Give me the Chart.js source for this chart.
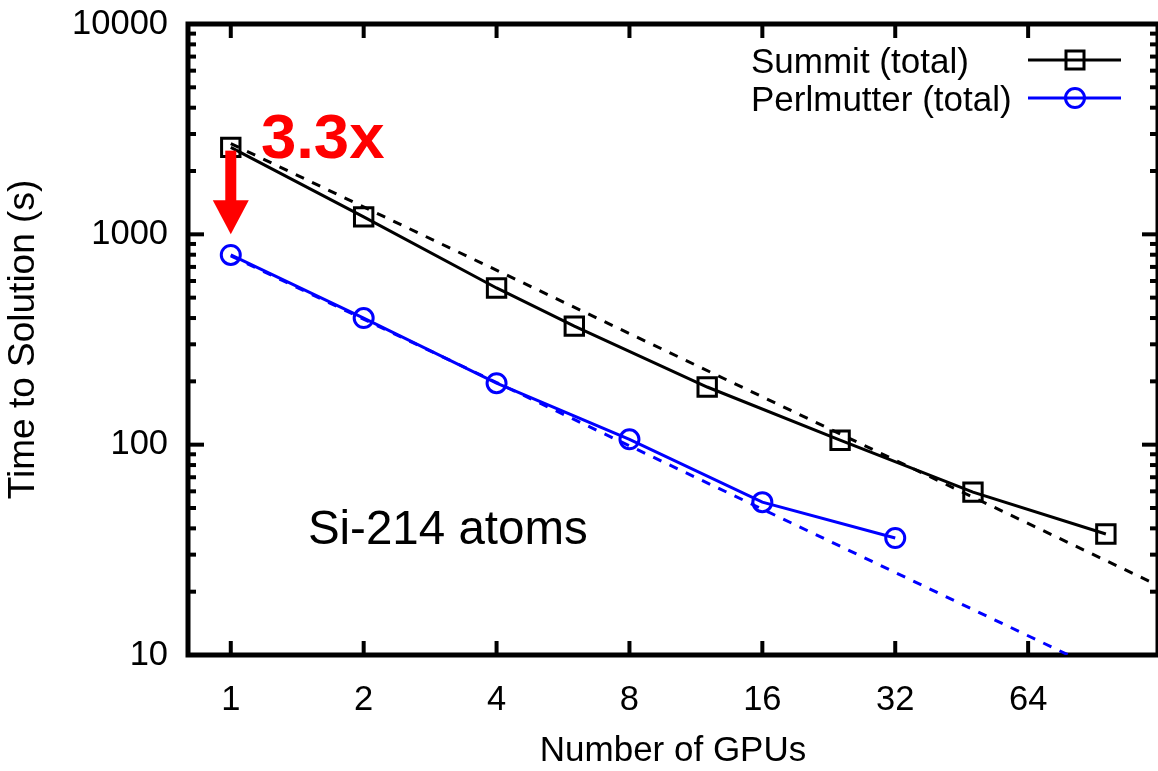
<!DOCTYPE html>
<html>
<head>
<meta charset="utf-8">
<script src="https://cdn.jsdelivr.net/npm/chart.js@4.4.0/dist/chart.umd.min.js"></script>
<style>
  html, body { margin: 0; padding: 0; background: #fff; overflow: hidden; }
  #wrap { width: 1158px; height: 771px; position: relative; }
  canvas { display: block; }
</style>
</head>
<body>
<div id="wrap"><canvas id="chart"></canvas></div>
<script>
// measured data
var gpusSummit = [1, 2, 4, 6, 12, 24, 48, 96];
var timeSummit = [2590, 1210, 556, 366, 188, 105, 59.5, 37.6];
var gpusPerlmutter = [1, 2, 4, 8, 16, 32];
var timePerlmutter = [798, 400, 196, 106, 53.3, 36.0];

// ideal scaling lines (end points)
var idealGpus = [1, 128];
var idealSummit = [2700, 21.1];
var idealPerlmutter = [790, 6.17];

var xTicks = [1, 2, 4, 8, 16, 32, 64];
var yTicks = [10, 100, 1000, 10000];

var FONT = '"Liberation Sans", Arial, sans-serif';

function pts(xs, ys) {
  return xs.map(function (x, i) { return { x: x, y: ys[i] }; });
}

function line(ctx, x1, y1, x2, y2) {
  ctx.beginPath();
  ctx.moveTo(x1, y1);
  ctx.lineTo(x2, y2);
  ctx.stroke();
}

// gnuplot style border with inward ticks on all four sides
var framePlugin = {
  id: 'frame',
  beforeDatasetsDraw: function (chart) {
    var ctx = chart.ctx, a = chart.chartArea;
    var sx = chart.scales.x, sy = chart.scales.y;
    ctx.save();
    ctx.strokeStyle = '#000';
    ctx.lineWidth = 4;
    xTicks.forEach(function (v) {
      var px = sx.getPixelForValue(v);
      line(ctx, px, a.bottom, px, a.bottom - 14);
      line(ctx, px, a.top, px, a.top + 14);
    });
    for (var i = 0; i < yTicks.length; i++) {
      var py = sy.getPixelForValue(yTicks[i]);
      line(ctx, a.left, py, a.left + 16, py);
      line(ctx, a.right, py, a.right - 16, py);
      if (i == yTicks.length - 1) break;
      for (var m = 2; m <= 9; m++) {
        var pm = sy.getPixelForValue(yTicks[i] * m);
        line(ctx, a.left, pm, a.left + 8, pm);
        line(ctx, a.right, pm, a.right - 8, pm);
      }
    }
    ctx.lineWidth = 5;
    ctx.strokeRect(a.left, a.top, a.right - a.left, a.bottom - a.top);
    ctx.restore();
  }
};

function drawMarker(ctx, style, x, y, color) {
  ctx.save();
  ctx.strokeStyle = color;
  ctx.lineWidth = 3;
  ctx.beginPath();
  if (style == 'rect') {
    ctx.rect(x - 9, y - 9, 18, 18);
  } else {
    ctx.arc(x, y, 9.5, 0, Math.PI * 2);
  }
  ctx.stroke();
  ctx.restore();
}

var notesPlugin = {
  id: 'notes',
  afterDatasetsDraw: function (chart) {
    var ctx = chart.ctx;
    var sx = chart.scales.x, sy = chart.scales.y;
    ctx.save();

    // red arrow from Summit to Perlmutter at 1 GPU
    var ax = sx.getPixelForValue(1);
    var yFrom = sy.getPixelForValue(2500);
    var yTip = sy.getPixelForValue(1000);
    ctx.fillStyle = '#ff0000';
    ctx.fillRect(ax - 5.5, yFrom, 11, yTip - 33 - yFrom);
    ctx.beginPath();
    ctx.moveTo(ax - 18, yTip - 34);
    ctx.lineTo(ax + 18, yTip - 34);
    ctx.lineTo(ax, yTip);
    ctx.closePath();
    ctx.fill();

    ctx.textAlign = 'left';
    ctx.textBaseline = 'alphabetic';
    ctx.font = 'bold 63.5px ' + FONT;
    ctx.fillText('3.3x', sx.getPixelForValue(1.17), sy.getPixelForValue(2300));

    ctx.fillStyle = '#000';
    ctx.font = '47.5px ' + FONT;
    ctx.fillText('Si-214 atoms', sx.getPixelForValue(1.495), sy.getPixelForValue(33.7));

    // legend
    var rows = [
      { label: 'Summit (total)', color: '#000000', style: 'rect', y: 60 },
      { label: 'Perlmutter (total)', color: '#0000ff', style: 'circle', y: 98 }
    ];
    ctx.font = '35px ' + FONT;
    rows.forEach(function (r) {
      ctx.fillStyle = '#000';
      ctx.fillText(r.label, 751, r.y + 12.5);
      ctx.strokeStyle = r.color;
      ctx.lineWidth = 3;
      line(ctx, 1028, r.y, 1121, r.y);
      drawMarker(ctx, r.style, 1075, r.y, r.color);
    });
    ctx.restore();
  }
};

var ctx = document.getElementById('chart');
new Chart(ctx, {
  type: 'line',
  data: {
    datasets: [
      {
        label: 'Summit (total)',
        data: pts(gpusSummit, timeSummit),
        borderColor: '#000000',
        borderWidth: 3,
        pointStyle: 'rect',
        pointRadius: 13,
        pointBorderWidth: 3,
        pointBorderColor: '#000000',
        pointBackgroundColor: 'rgba(0,0,0,0)'
      },
      {
        label: 'Perlmutter (total)',
        data: pts(gpusPerlmutter, timePerlmutter),
        borderColor: '#0000ff',
        borderWidth: 3,
        pointStyle: 'circle',
        pointRadius: 9.5,
        pointBorderWidth: 3,
        pointBorderColor: '#0000ff',
        pointBackgroundColor: 'rgba(0,0,0,0)'
      },
      {
        label: 'Summit ideal',
        data: pts(idealGpus, idealSummit),
        borderColor: '#000000',
        borderWidth: 3,
        borderDash: [9, 9],
        pointRadius: 0
      },
      {
        label: 'Perlmutter ideal',
        data: pts(idealGpus, idealPerlmutter),
        borderColor: '#0000ff',
        borderWidth: 3,
        borderDash: [9, 9],
        pointRadius: 0
      }
    ]
  },
  options: {
    responsive: true,
    maintainAspectRatio: false,
    animation: false,
    layout: {
      autoPadding: false,
      padding: { top: 24, right: 0, left: 0, bottom: 0 }
    },
    plugins: {
      legend: { display: false },
      tooltip: { enabled: false }
    },
    scales: {
      x: {
        type: 'logarithmic',
        min: 0.8,
        max: 126,
        grid: { display: false, drawTicks: false },
        border: { display: false },
        afterBuildTicks: function (s) {
          s.ticks = xTicks.map(function (v) { return { value: v }; });
        },
        afterFit: function (s) {
          s.height = 116;
          s.paddingLeft = 0;
          s.paddingRight = 0;
        },
        ticks: {
          autoSkip: false,
          maxRotation: 0,
          padding: 25,
          color: '#000',
          font: { family: FONT, size: 34.5 },
          callback: function (v) { return String(v); }
        },
        title: {
          display: true,
          text: 'Number of GPUs',
          color: '#000',
          font: { family: FONT, size: 35, lineHeight: 1.1 },
          padding: { top: 0, bottom: 0 }
        }
      },
      y: {
        type: 'logarithmic',
        min: 10,
        max: 10000,
        grid: { display: false, drawTicks: false },
        border: { display: false },
        afterBuildTicks: function (s) {
          s.ticks = yTicks.map(function (v) { return { value: v }; });
        },
        afterFit: function (s) {
          s.width = 188;
          s.paddingTop = 0;
          s.paddingBottom = 0;
        },
        ticks: {
          autoSkip: false,
          padding: 20,
          color: '#000',
          font: { family: FONT, size: 34.5 },
          callback: function (v) { return String(v); }
        },
        title: {
          display: true,
          text: 'Time to Solution (s)',
          color: '#000',
          font: { family: FONT, size: 37, lineHeight: 1.1 },
          padding: { top: 3, bottom: 0 }
        }
      }
    }
  },
  plugins: [framePlugin, notesPlugin]
});
</script>
</body>
</html>
